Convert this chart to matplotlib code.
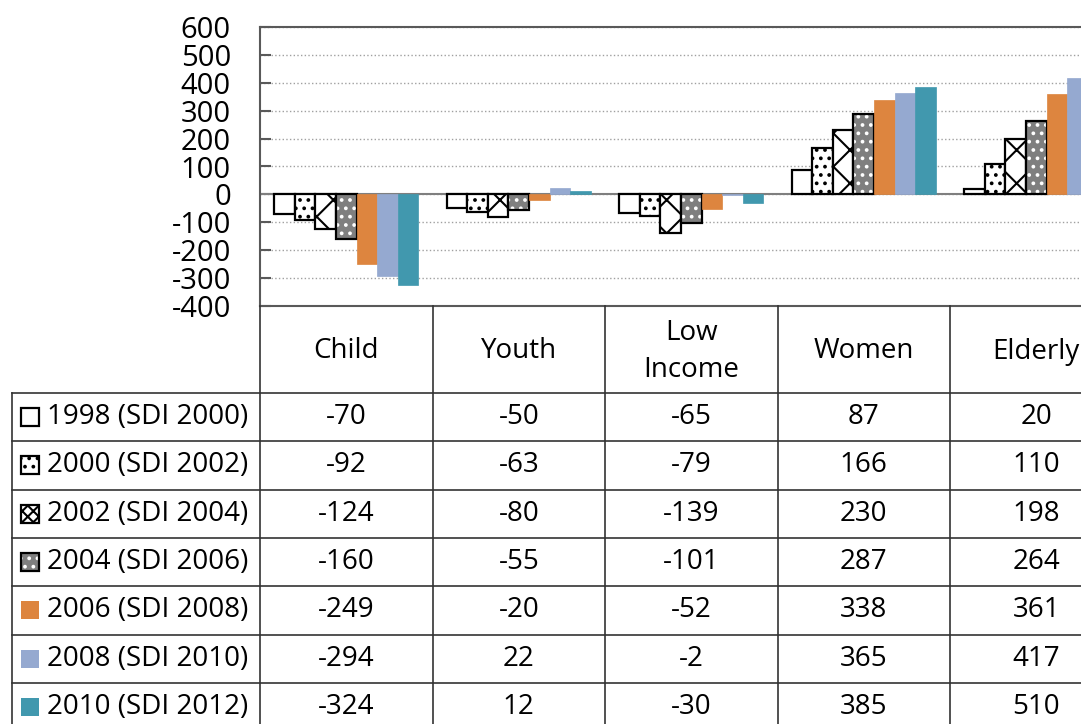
import numpy as np
import matplotlib.pyplot as plt
from matplotlib.patches import Rectangle

plt.rcParams['font.family'] = ['Open Sans', 'DejaVu Sans']
plt.rcParams['hatch.linewidth'] = 1.5
plt.rcParams['axes.unicode_minus'] = False

categories = ['Child', 'Youth', 'Low\nIncome', 'Women', 'Elderly']
series = ['1998 (SDI 2000)', '2000 (SDI 2002)', '2002 (SDI 2004)',
          '2004 (SDI 2006)', '2006 (SDI 2008)', '2008 (SDI 2010)',
          '2010 (SDI 2012)']

v1998 = [-70, -50, -65, 87, 20]
v2000 = [-92, -63, -79, 166, 110]
v2002 = [-124, -80, -139, 230, 198]
v2004 = [-160, -55, -101, 287, 264]
v2006 = [-249, -20, -52, 338, 361]
v2008 = [-294, 22, -2, 365, 417]
v2010 = [-324, 12, -30, 385, 510]
values = [v1998, v2000, v2002, v2004, v2006, v2008, v2010]

# (face, hatch, hatch colour, black outline)
styles = [('white', None, 'black', True),
          ('white', '..', 'black', True),
          ('white', 'x', 'black', True),
          ('#7f7f7f', '..', 'white', True),
          ('#dd853f', None, '#dd853f', False),
          ('#95a9d0', None, '#95a9d0', False),
          ('#4198ae', None, '#4198ae', False)]

W, H = 1081, 724
fig = plt.figure(figsize=(W / 100, H / 100), dpi=100)

# chart area (runs past the right edge, like the reference)
col_w = 172.5
left, top, bottom = 260, 27, 306
ax = fig.add_axes([left / W, 1 - bottom / H, 5 * col_w / W, (bottom - top) / H])

x = np.arange(len(categories))
bw = 0.119

def draw_bar(a, xs, hs, st, **kw):
    face, hatch, hcol, outline = st
    if hatch is not None:
        a.bar(xs, hs, bw, color=face, edgecolor=hcol, hatch=hatch, linewidth=0, **kw)
        if outline:
            a.bar(xs, hs, bw, fill=False, edgecolor='black', linewidth=1.6, **kw)
    elif outline:
        a.bar(xs, hs, bw, color=face, edgecolor='black', linewidth=1.6, **kw)
    else:
        a.bar(xs, hs, bw, color=face, edgecolor=face, linewidth=0.5, **kw)

for i, vals in enumerate(values):
    draw_bar(ax, x + (i - 3) * bw, vals, styles[i], zorder=3)

ax.set_xlim(-0.5, 4.5)
ax.set_ylim(-400, 600)
ax.set_yticks(np.arange(-400, 601, 100))
ax.set_xticks([])
ax.yaxis.grid(True, ls=':', color='#a0a0a0', lw=1)
ax.set_axisbelow(True)
ax.axhline(0, color='#7f7f7f', lw=1.5, zorder=2)
for s in ['left', 'top', 'bottom']:
    ax.spines[s].set_color('#595959')
    ax.spines[s].set_linewidth(1.5)
ax.spines['right'].set_visible(False)
ax.tick_params(axis='y', direction='in', length=8, width=1.5, color='#595959',
               pad=21, labelsize=21)

# data table under the chart
tb = fig.add_axes([0, 0, 1, 1])
tb.set_xlim(0, W)
tb.set_ylim(H, 0)
tb.axis('off')
tb.patch.set_alpha(0)

lc = '#333333'
row0 = 393
rh = 48.3
edges = [left + k * col_w for k in range(6)]
for xe in edges[:5]:
    tb.plot([xe, xe], [bottom, H], color=lc, lw=1.2)
tb.plot([12, 12], [row0, H], color=lc, lw=1.2)
for k in range(7):
    yy = row0 + k * rh
    tb.plot([12, W], [yy, yy], color=lc, lw=1.2)

for k, c in enumerate(categories):
    tb.text(left + (k + 0.5) * col_w, (bottom + row0) / 2 + 2, c, ha='center',
            va='center', fontsize=20, linespacing=1.4)

for i, name in enumerate(series):
    yc = row0 + (i + 0.5) * rh
    face, hatch, hcol, outline = styles[i]
    key_hatch = 'xxx' if hatch == 'x' else hatch
    tb.add_patch(Rectangle((21, yc - 9), 18, 18, facecolor=face, edgecolor=hcol,
                           hatch=key_hatch, linewidth=0))
    if outline:
        tb.add_patch(Rectangle((21, yc - 9), 18, 18, fill=False, edgecolor='black',
                               linewidth=1.6))
    tb.text(47, yc, name, ha='left', va='center', fontsize=20)
    for k, v in enumerate(values[i]):
        tb.text(left + (k + 0.5) * col_w, yc, str(v), ha='center', va='center',
                fontsize=20)

fig.savefig('out.png', dpi=100)
